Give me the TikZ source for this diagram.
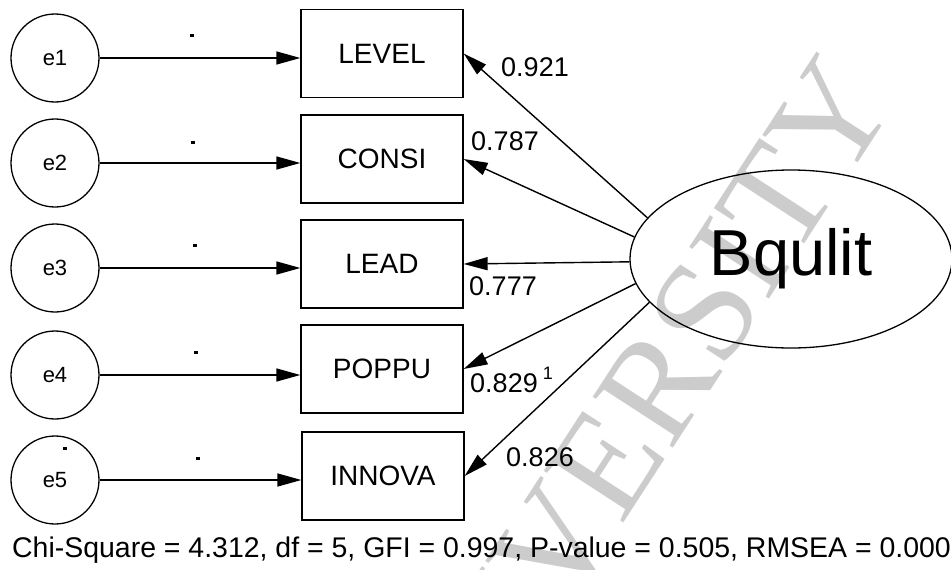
\documentclass[tikz,border=0pt]{standalone}
\usepackage{fontspec}
\setmainfont{Liberation Sans}
\newfontfamily\wmfont{Liberation Serif}
\usetikzlibrary{arrows.meta,shapes.geometric}
\begin{document}
\begin{tikzpicture}[x=1pt,y=-1pt,
  errc/.style={circle,draw,line width=1.3pt,minimum size=88pt,inner sep=0pt,font=\fontsize{22}{24}\selectfont},
  obs/.style={rectangle,draw,line width=1.3pt,minimum width=162pt,minimum height=88pt,inner sep=0pt,font=\fontsize{28}{30}\selectfont},
  lat/.style={ellipse,draw,line width=1.3pt,minimum width=322pt,minimum height=178pt,inner sep=0pt,font=\fontsize{65}{67}\selectfont},
  lbl/.style={inner sep=0pt,font=\fontsize{27}{29}\selectfont},
  conn/.style={line width=1.4pt,-{Triangle[length=24pt,width=13pt]}},
  speck/.style={fill=black,minimum width=4pt,minimum height=3pt,inner sep=0pt}
]
\useasboundingbox (0,0) rectangle (951,570);
\begin{scope}
\clip (0,0) rectangle (951,570);
\node[rotate=57,text=black!20,inner sep=0pt,font=\wmfont\fontsize{145}{150}\selectfont] (wm) at (622,440) {UNIVERSITY};
\end{scope}
% error terms
\node[errc] (e1) at (55,58) {e1};
\node[errc] (e2) at (55,163) {e2};
\node[errc] (e3) at (55,268) {e3};
\node[errc] (e4) at (55,375) {e4};
\node[errc] (e5) at (55,480) {e5};
% observed
\node[obs] (v1) at (382,53.5) {LEVEL};
\node[obs] (v2) at (382,159) {CONSI};
\node[obs] (v3) at (382,264) {LEAD};
\node[obs] (v4) at (382,369) {POPPU};
\node[obs] (v5) at (383,476) {INNOVA};
% latent
\node[lat] (F) at (791,259) {Bqulit};
% error arrows
\draw[conn] (e1) -- (e1 -| v1.west);
\draw[conn] (e2) -- (e2 -| v2.west);
\draw[conn] (e3) -- (e3 -| v3.west);
\draw[conn] (e4) -- (e4 -| v4.west);
\draw[conn] (e5) -- (e5 -| v5.west);
% loadings
\draw[conn] (F.164.7) -- (v1.east);
\draw[conn] (F.172) -- (v2.east);
\draw[conn] (F.181) -- (v3.east);
\draw[conn] (F.189) -- (v4.east);
\draw[conn] (F.197) -- (v5.east);
% labels
\node[lbl] (l1) at (535,67) {0.921};
\node[lbl] (l2) at (505,141) {0.787};
\node[lbl] (l3) at (503,286) {0.777};
\node[lbl] (l4) at (504,383) {0.829};
\node[inner sep=0pt,font=\fontsize{18}{20}\selectfont] (l4s) at (548,373) {1};
\node[lbl] (l5) at (540,457) {0.826};
% specks
\node[speck] (d1) at (192,35) {};
\node[speck] (d2) at (193,142) {};
\node[speck] (d3) at (195,245) {};
\node[speck] (d4) at (196,352) {};
\node[speck] (d5) at (198,458) {};
\node[speck] (d6) at (65,448) {};
% fit line
\node[anchor=base west,inner sep=0pt,font=\fontsize{28.45}{30}\selectfont] (fit) at (12,557) {Chi-Square = 4.312, df = 5, GFI = 0.997, P-value = 0.505, RMSEA = 0.000};
\end{tikzpicture}
\end{document}
